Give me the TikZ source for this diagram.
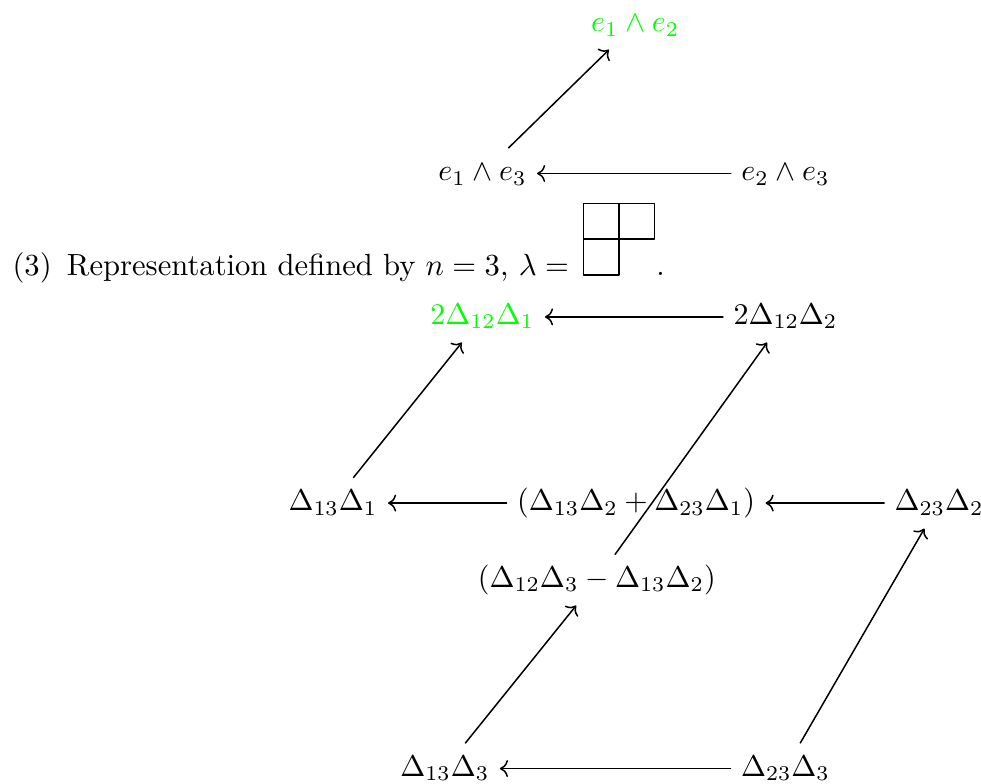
\documentclass[tikz,border=0pt]{standalone}
\usetikzlibrary{arrows.meta}
\definecolor{RepGreen}{HTML}{00FF00}

\begin{document}
\begin{tikzpicture}[line cap=round,line join=round,
    term/.style={anchor=base,text height=7.5pt,text depth=2.5pt},
    map/.style={-{Computer Modern Rightarrow},line width=0.5pt}]
  \useasboundingbox (0,0) rectangle (11.49,9.18);
  % exterior square of the standard representation
  \node[term,text=RepGreen] (e12) at (7.44,8.81) {$e_1\wedge e_2$};
  \node[term] (e13) at (5.65,7.06) {$e_1\wedge e_3$};
  \node[term] (e23) at (9.20,7.06) {$e_2\wedge e_3$};
  \draw[map] (e23) -- (e13);
  \draw[map] (e13) -- (e12);
  % the line of text with the Young diagram
  \node[anchor=base west,inner sep=0,scale=1.02,transform shape] (rep) at (0.14,5.95) {(3)\hspace{5pt}Representation defined by $n=3$, $\lambda=$};
  \draw[line width=0.4pt] (6.83,5.96) rectangle (7.25,6.38) (6.83,6.38) rectangle (7.25,6.80) (7.25,6.38) rectangle (7.67,6.80);
  \node[anchor=base west,inner sep=0] (stop) at (7.68,5.95) {.};
  % weight diagram for lambda
  \node[term,text=RepGreen] (d121) at (5.65,5.38) {$2\Delta_{12}\Delta_1$};
  \node[term] (d122) at (9.20,5.38) {$2\Delta_{12}\Delta_2$};
  \node[term] (d131) at (3.90,3.20) {$\Delta_{13}\Delta_1$};
  \node[term] (dmid) at (7.45,3.20) {$(\Delta_{13}\Delta_2+\Delta_{23}\Delta_1)$};
  \node[term] (d232) at (11.00,3.20) {$\Delta_{23}\Delta_2$};
  \node[term] (dmix) at (6.99,2.30) {$(\Delta_{12}\Delta_3-\Delta_{13}\Delta_2)$};
  \node[term] (d133) at (5.21,0.09) {$\Delta_{13}\Delta_3$};
  \node[term] (d233) at (9.20,0.09) {$\Delta_{23}\Delta_3$};
  \draw[map] (d122) -- (d121);
  \draw[map] (d131) -- (d121);
  \draw[map] (dmix) -- (d122);
  \draw[map] (dmid) -- (d131);
  \draw[map] (d232) -- (dmid);
  \draw[map] (d133) -- (dmix);
  \draw[map] (d233) -- (d232);
  \draw[map] (d233) -- (d133);
\end{tikzpicture}
\end{document}
